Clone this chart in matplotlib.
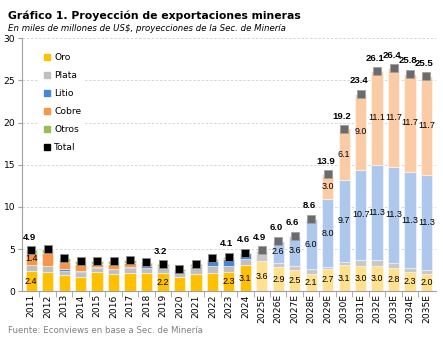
import matplotlib.pyplot as plt
import numpy as np
from matplotlib.lines import Line2D

years = ["2011", "2012", "2013", "2014", "2015", "2016", "2017", "2018", "2019",
         "2020", "2021", "2022", "2023", "2024", "2025E", "2026E", "2027E", "2028E",
         "2029E", "2030E", "2031E", "2032E", "2033E", "2034E", "2035E"]
oro = [2.4, 2.3, 1.95, 1.75, 2.3, 2.0, 2.2, 2.15, 2.2, 1.75, 2.0, 2.15, 2.3, 3.1,
       3.6, 2.9, 2.5, 2.1, 2.7, 3.1, 3.0, 3.0, 2.8, 2.3, 2.0]
plata = [0.7, 0.7, 0.5, 0.5, 0.5, 0.6, 0.55, 0.6, 0.6, 0.6, 0.9, 0.9, 0.75, 0.7,
         0.8, 0.5, 0.5, 0.5, 0.2, 0.4, 0.7, 0.7, 0.6, 0.5, 0.5]
litio = [0.05, 0.05, 0.15, 0.15, 0.1, 0.1, 0.15, 0.2, 0.1, 0.05, 0.1, 0.6, 0.8, 0.7,
         0.4, 2.6, 3.6, 6.0, 8.0, 9.7, 10.7, 11.3, 11.3, 11.3, 11.3]
cobre = [1.4, 1.5, 0.9, 0.9, 0.4, 0.5, 0.5, 0.4, 0.1, 0, 0, 0, 0, 0,
         0, 0, 0, 0, 3.0, 6.1, 9.0, 11.1, 11.7, 11.7, 11.7]
otros = [0.35, 0.45, 0.4, 0.3, 0.3, 0.4, 0.3, 0.15, 0.2, 0.2, 0.2, 0.2, 0.25, 0.1,
         0.1, 0, 0, 0, 0, 0, 0, 0, 0, 0, 0]
total = [4.9, 5.0, 3.9, 3.6, 3.6, 3.6, 3.7, 3.5, 3.2, 2.6, 3.2, 3.9, 4.1, 4.6,
         4.9, 6.0, 6.6, 8.6, 13.9, 19.2, 23.4, 26.1, 26.4, 25.8, 25.5]

# which points get a data label
lab_oro = [0, 8, 12, 13] + list(range(14, 25))
lab_litio = list(range(15, 25))
lab_cobre = [0] + list(range(18, 25))
lab_total = [0, 8, 12, 13] + list(range(14, 25))

series = [("Oro", oro, "#FFC000", "#FFE08C"),
          ("Plata", plata, "#BFBFBF", "#C8C8C8"),
          ("Litio", litio, "#4A86D6", "#AEC7EC"),
          ("Cobre", cobre, "#F79646", "#FBCBA6"),
          ("Otros", otros, "#9BBB59", "#C5D9A0")]

x = np.arange(len(years))
est = np.array([y.endswith("E") for y in years])

fig = plt.figure(figsize=(4.43, 3.40), dpi=100)
ax = fig.add_axes([0.05, 0.143, 0.935, 0.745])

bottom = np.zeros(len(years))
for name, vals, c_hist, c_est in series:
    vals = np.array(vals)
    cols = [c_est if e else c_hist for e in est]
    ax.bar(x, vals, 0.68, bottom=bottom, color=cols, edgecolor=(1, 1, 1, 0.45),
           linewidth=0.8, zorder=2)
    bottom = bottom + vals

ax.plot(x[~est], np.array(total)[~est], 's', color="black", ms=6,
        mec="#8a8a8a", mew=0.6, zorder=3)
ax.plot(x[est], np.array(total)[est], 's', color="#6b6b6b", ms=6,
        mec="#a0a0a0", mew=0.6, zorder=3)

lf = "Liberation Sans"
fs = 6.4
for i in lab_oro:
    ax.text(x[i], oro[i] / 2, f"{oro[i]:.1f}", ha="center", va="center", fontsize=fs,
            family=lf, zorder=4)
for i in lab_litio:
    y0 = oro[i] + plata[i]
    ax.text(x[i], y0 + litio[i] / 2, f"{litio[i]:.1f}", ha="center", va="center",
            fontsize=fs, family=lf, zorder=4)
for i in lab_cobre:
    y0 = oro[i] + plata[i] + litio[i]
    ax.text(x[i], y0 + cobre[i] / 2, f"{cobre[i]:.1f}", ha="center", va="center",
            fontsize=fs, family=lf, zorder=4)
for i in lab_total:
    ax.annotate(f"{total[i]:.1f}", (x[i], total[i]), xytext=(-1.5, 6), textcoords="offset points",
                ha="center", va="bottom", fontsize=6.8, fontweight="bold", family=lf, zorder=4)

ax.set_ylim(0, 30)
ax.set_xlim(-0.55, 24.6)
ax.set_yticks(range(0, 31, 5))
ax.yaxis.grid(True, color="#d0d0d0", linestyle=(0, (3, 2)), linewidth=0.6)
ax.set_axisbelow(True)
ax.set_xticks(x)
ax.set_xticklabels(years, rotation=90, fontsize=6.6)
ax.set_xticks(x[:-1] + 0.5, minor=True)
ax.tick_params(axis="x", which="major", length=0, pad=2)
ax.tick_params(axis="x", which="minor", length=4, color="#a0a0a0")
ax.tick_params(axis="y", labelsize=6.6, length=3, color="#a0a0a0", pad=2)
for s in ["top", "right"]:
    ax.spines[s].set_visible(False)
ax.spines["left"].set_color("#a0a0a0")
ax.spines["bottom"].set_color("#a0a0a0")

handles = [Line2D([], [], marker="s", ls="", color=c, ms=3.8) for _, _, c, _ in series]
handles.append(Line2D([], [], marker="s", ls="", color="black", ms=3.8))
leg = ax.legend(handles, [s[0] for s in series] + ["Total"], loc="upper left",
                bbox_to_anchor=(0.03, 0.97), fontsize=6.6, frameon=True, framealpha=1,
                edgecolor="white", labelspacing=0.98, handletextpad=0.15,
                handlelength=1.2, borderpad=0.3)

fig.text(0.018, 0.97, "Gráfico 1. Proyección de exportaciones mineras", fontsize=7.8,
         fontweight="bold", va="top")
fig.text(0.018, 0.93, "En miles de millones de US$, proyecciones de la Sec. de Minería",
         fontsize=6.2, style="italic", va="top")
fig.text(0.018, 0.027, "Fuente: Econviews en base a Sec. de Minería", fontsize=6.2,
         color="#808080", va="center")

fig.savefig("out.png", dpi=100)
